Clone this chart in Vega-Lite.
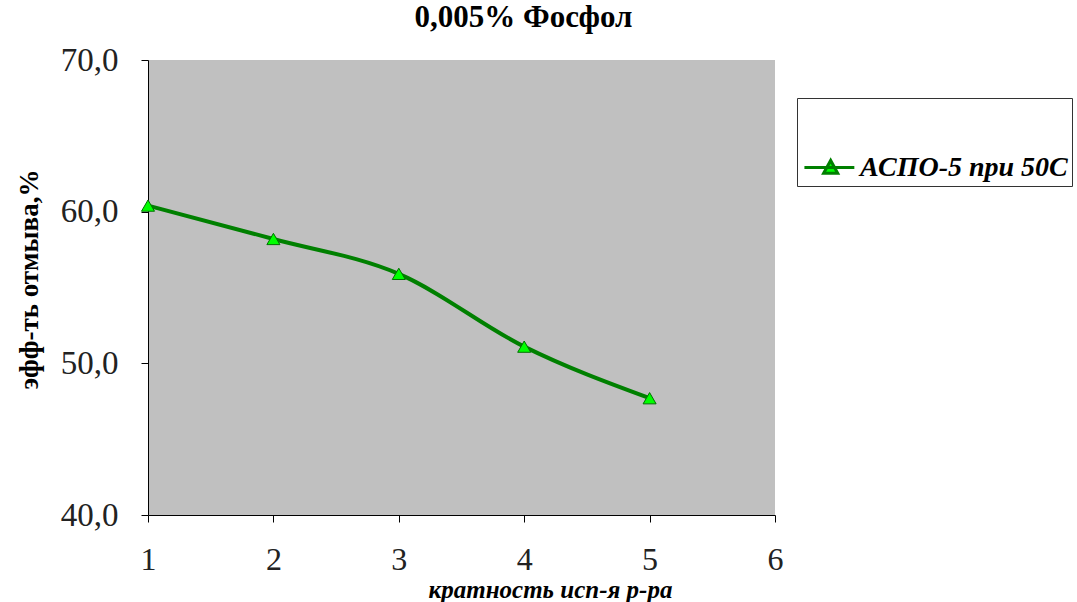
{
  "$schema": "https://vega.github.io/schema/vega-lite/v6.json",
  "width": 627,
  "height": 455,
  "padding": {"left": 148, "top": 60, "right": 302, "bottom": 87},
  "autosize": {"type": "none"},
  "background": "white",
  "config": {
    "locale": {"number": {"decimal": ",", "thousands": " ", "grouping": [3], "currency": ["", ""]}},
    "view": {"fill": "#c0c0c0", "stroke": null},
    "font": "Liberation Serif"
  },
  "title": {
    "text": "0,005% Фосфол",
    "font": "Liberation Serif",
    "fontSize": 31,
    "fontWeight": "bold",
    "color": "black",
    "anchor": "middle",
    "frame": "group",
    "baseline": "alphabetic",
    "offset": -14,
    "dx": 62
  },
  "data": {
    "values": [
      {"x": 1, "y": 60.4, "series": "АСПО-5 при 50С"},
      {"x": 2, "y": 58.2, "series": "АСПО-5 при 50С"},
      {"x": 3, "y": 55.9, "series": "АСПО-5 при 50С"},
      {"x": 4, "y": 51.1, "series": "АСПО-5 при 50С"},
      {"x": 5, "y": 47.7, "series": "АСПО-5 при 50С"}
    ]
  },
  "encoding": {
    "x": {
      "field": "x", "type": "quantitative",
      "scale": {"domain": [1, 6], "nice": false, "zero": false},
      "axis": {
        "values": [1, 2, 3, 4, 5, 6], "format": "d", "grid": false, "labelFlush": false,
        "domainColor": "black", "domainWidth": 1, "tickColor": "black", "tickSize": 7,
        "labelFont": "Liberation Serif", "labelFontSize": 32, "labelColor": "#222", "labelPadding": 22,
        "title": "кратность исп-я р-ра", "titleFont": "Liberation Serif", "titleFontSize": 25,
        "titleFontStyle": "italic", "titleFontWeight": "bold", "titleColor": "black",
        "titleX": 402, "titleY": 82, "titleBaseline": "alphabetic", "titleAlign": "center"
      }
    },
    "y": {
      "field": "y", "type": "quantitative",
      "scale": {"domain": [40, 70], "nice": false, "zero": false},
      "axis": {
        "values": [40, 50, 60, 70], "format": ".1f", "grid": false, "labelFlush": false,
        "domainColor": "black", "domainWidth": 1, "tickColor": "black", "tickSize": 7,
        "labelFont": "Liberation Serif", "labelFontSize": 33, "labelColor": "#222", "labelPadding": 23,
        "title": "эфф-ть отмыва,%", "titleFont": "Liberation Serif", "titleFontSize": 27,
        "titleFontWeight": "bold", "titleColor": "black",
        "titleX": -111, "titleY": 219, "titleBaseline": "alphabetic", "titleAlign": "center", "titleAngle": -90
      }
    }
  },
  "layer": [
    {
      "mark": {"type": "line", "interpolate": "monotone", "strokeWidth": 4},
      "encoding": {
        "color": {
          "field": "series", "type": "nominal",
          "scale": {"range": ["#008000"]},
          "legend": {
            "title": null,
            "orient": "none",
            "legendX": 649,
            "legendY": 38,
            "fillColor": "white",
            "strokeColor": "#333",
            "padding": 4,
            "symbolType": "M-0.97,0L-0.19,0M-0.67,0.09L-0.56,-0.11L-0.45,0.09Z",
            "symbolSize": 16384,
            "symbolStrokeWidth": 4,
            "symbolFillColor": "#00ff00",
            "labelOffset": -72,
            "labelFont": "Liberation Serif",
            "labelFontSize": 28,
            "labelFontStyle": "italic",
            "labelFontWeight": "bold",
            "labelColor": "black",
            "labelLimit": 400,
            "encode": {"symbols": {"update": {"fill": {"value": "#00ff00"}, "fillOpacity": {"value": 1}, "strokeWidth": {"value": 3}}}}
          }
        }
      }
    },
    {
      "mark": {"type": "point", "shape": "triangle-up", "filled": true, "fill": "#00ff00", "fillOpacity": 1, "stroke": "#007000", "strokeWidth": 1, "size": 170}
    }
  ]
}
